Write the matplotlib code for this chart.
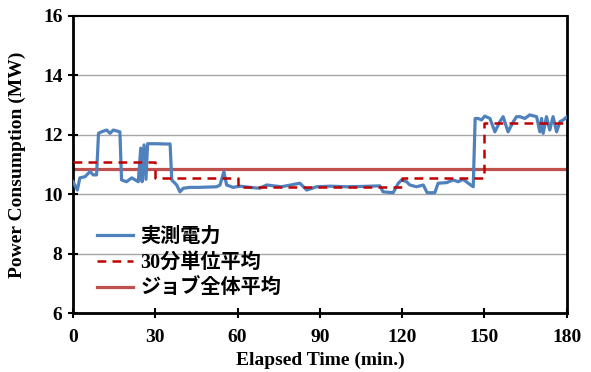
import matplotlib
matplotlib.use("Agg")
import matplotlib.pyplot as plt

t_measured = [0, 1.6, 2.5, 4.4, 6.2, 7.4, 8.6, 9.3, 10.4, 12.3, 13.5, 14.7, 17.1,
              17.7, 19.5, 21.4, 23.8, 24.7, 25.2, 25.9, 26.6, 27.2, 30, 34, 35.4,
              36, 37.8, 39, 40.2, 42.6, 46, 52.4, 53.6, 55, 56, 58.4, 60.9, 64.5,
              68, 70.6, 76, 82.7, 85.2, 88.8, 94, 99.7, 105, 111.9, 113, 116.7,
              118.6, 119.8, 121.6, 122.8, 125.2, 127.7, 129.1, 131.9, 133.1,
              136.2, 138.6, 140.4, 142.2, 144.1, 145.9, 146.6, 147.7, 148.9,
              150.1, 152, 153.8, 155.6, 156.8, 158.6, 160.5, 161.7, 162.9, 164.7,
              166.5, 169, 170.2, 170.8, 171.4, 172.6, 173.8, 175, 176.3, 177.5,
              178.7, 180]
p_measured = [10.42, 10.14, 10.55, 10.59, 10.76, 10.65, 10.65, 12.05, 12.1, 12.16,
              12.05, 12.16, 12.1, 10.48, 10.42, 10.55, 10.42, 11.55, 10.42, 11.66,
              10.5, 11.7, 11.7, 11.69, 11.69, 10.48, 10.31, 10.08, 10.2, 10.23,
              10.23, 10.25, 10.31, 10.76, 10.31, 10.23, 10.27, 10.23, 10.2, 10.31,
              10.25, 10.37, 10.14, 10.25, 10.27, 10.25, 10.26, 10.28, 10.08, 10.05,
              10.37, 10.48, 10.42, 10.31, 10.25, 10.31, 10.05, 10.05, 10.37,
              10.39, 10.48, 10.42, 10.5, 10.37, 10.25, 12.55, 12.55, 12.5, 12.63,
              12.55, 12.1, 12.44, 12.61, 12.1, 12.44, 12.61, 12.61, 12.55, 12.67,
              12.61, 12.1, 12.55, 12.05, 12.61, 12.16, 12.61, 12.1, 12.44, 12.5,
              12.6]

# 30-minute block averages
t_blocks = [0, 30, 60, 90, 120, 150, 180]
p_blocks = [11.1, 10.55, 10.25, 10.25, 10.55, 12.4]

# whole-job average
p_job = 10.85

labels = ["実測電力", "30分単位平均", "ジョブ全体平均"]

plt.rcParams["font.family"] = ["Liberation Serif", "Noto Sans CJK JP"]
plt.rcParams["font.weight"] = "bold"

fig = plt.figure(figsize=(5.91, 3.72), dpi=100)
ax = fig.add_axes([0.1235, 0.1586, 0.8355, 0.7984])

ax.plot(t_measured, p_measured, color="#4F81BD", lw=2.3, label=labels[0],
        zorder=3, solid_joinstyle="round")
ax.step(t_blocks, p_blocks + [p_blocks[-1]], where="post", color="#C00000",
        lw=1.8, ls=(0, (3.5, 2.5)), label=labels[1], zorder=4)
ax.plot([0, 180], [p_job, p_job], color="#C0504D", lw=2.3, label=labels[2], zorder=2)

ax.set_xlim(0, 180)
ax.set_ylim(6, 16)
ax.set_xticks(range(0, 181, 30))
ax.set_yticks(range(6, 17, 2))
for y in [8, 10, 12, 14]:
    ax.axhline(y, color="#A6A6A6", lw=1.0, zorder=1)

ax.tick_params(axis="both", direction="inout", length=7, width=1.5, labelsize=14)
ax.tick_params(axis="x", pad=8)
ax.tick_params(axis="y", pad=4)
for s in ["left", "right", "bottom"]:
    ax.spines[s].set_linewidth(2.0)
ax.spines["top"].set_linewidth(1.5)

ax.set_xlabel("Elapsed Time (min.)", fontsize=14, fontweight="bold", labelpad=4)
ax.set_ylabel("Power Consumption (MW)", fontsize=14, fontweight="bold", labelpad=12)

ax.legend(loc="lower left", bbox_to_anchor=(0.02, 0.0), frameon=False,
          prop={"size": 14.5, "weight": "bold"}, handlelength=1.8,
          handletextpad=0.35, labelspacing=0.3, borderaxespad=0.3)

fig.savefig("out.png", dpi=100)
